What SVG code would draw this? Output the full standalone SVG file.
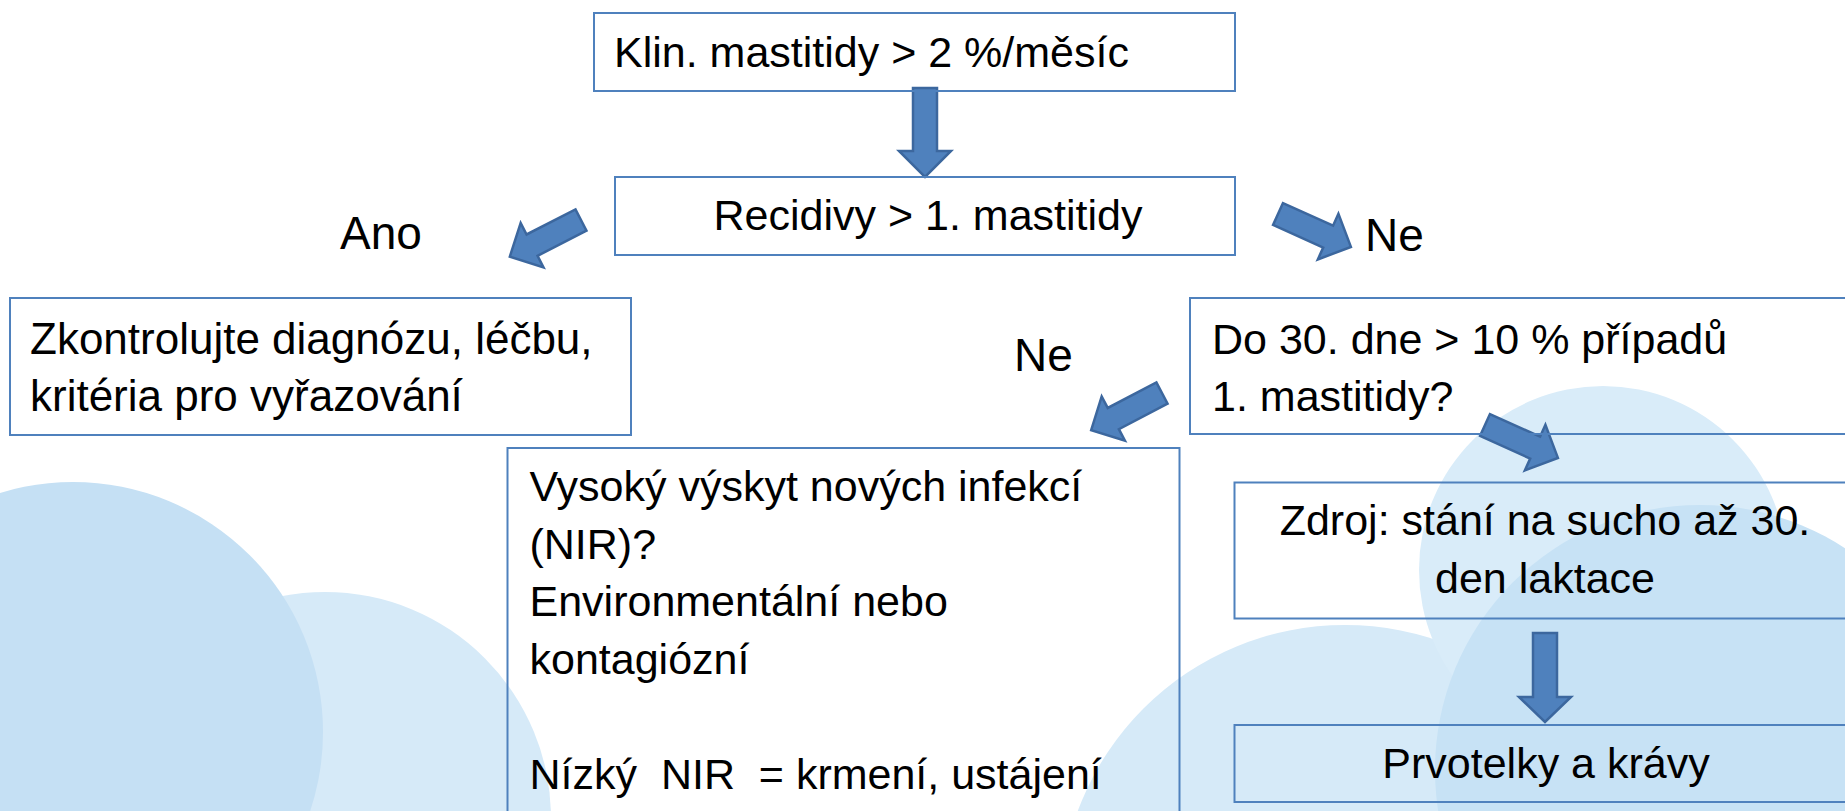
<svg xmlns="http://www.w3.org/2000/svg" xmlns:xlink="http://www.w3.org/1999/xlink" width="1845" height="811" viewBox="0 0 1845 811">
<style>
.box{fill:none;stroke:#4f81bd;stroke-width:2}
.t{font-family:"Liberation Sans",Arial,sans-serif;font-size:43px;fill:#000}
.lbl{font-family:"Liberation Sans",Arial,sans-serif;font-size:46px;fill:#000}
.arr{fill:#4f81bd;stroke:#3c679e;stroke-width:2.5;stroke-linejoin:miter}
</style>
<defs>
<path id="darr" d="M0,-12 H55 V-25 L80,0 L55,25 V12 H0 Z"/>
</defs>
<rect width="1845" height="811" fill="#ffffff"/>
<g id="background">
<circle cx="325" cy="818" r="226" fill="#d6eaf8"/>
<circle cx="73" cy="732" r="250" fill="#c5e0f4"/>
<circle cx="1345" cy="910" r="285" fill="#d6eaf8"/>
<circle cx="1603" cy="570" r="184" fill="#d9ecf9"/>
<circle cx="1700" cy="770" r="265" fill="#c7e2f5"/>
</g>
<g id="connectors">
<polygon class="arr" points="913,88 937,88 937,151 951,151 925,177 899,151 913,151"/>
<use class="arr" xlink:href="#darr" transform="translate(581,220) rotate(152.8)"/>
<use class="arr" xlink:href="#darr" transform="translate(1278,214) rotate(24.3)"/>
<use class="arr" xlink:href="#darr" transform="translate(1162,393) rotate(152.3)"/>
<use class="arr" xlink:href="#darr" transform="translate(1485,425) rotate(24.3)"/>
<polygon class="arr" points="1533,633 1557,633 1557,697 1571,697 1545,722 1519,697 1533,697"/>
</g>
<g id="labels">
<text class="lbl" x="340" y="249">Ano</text>
<text class="lbl" x="1365" y="251">Ne</text>
<text class="lbl" x="1014" y="371">Ne</text>
</g>
<g id="n1">
<rect class="box" x="594" y="13" width="641" height="78"/>
<text class="t" x="614" y="67">Klin. mastitidy &gt; 2 %/měsíc</text>
</g>
<g id="n2">
<rect class="box" x="615" y="177" width="620" height="78"/>
<text class="t" x="928" y="230" text-anchor="middle">Recidivy &gt; 1. mastitidy</text>
</g>
<g id="n3">
<rect class="box" x="10" y="298" width="621" height="137"/>
<text class="t" x="30" y="354" style="font-size:44px">Zkontrolujte diagnózu, léčbu,</text>
<text class="t" x="30" y="411" style="font-size:44px">kritéria pro vyřazování</text>
</g>
<g id="n4">
<rect class="box" x="1190" y="298" width="670" height="136"/>
<text class="t" x="1212" y="354">Do 30. dne &gt; 10 % případů</text>
<text class="t" x="1212" y="411">1. mastitidy?</text>
</g>
<g id="n5">
<rect class="box" x="507.5" y="448" width="672" height="380"/>
<text class="t" x="529.5" y="501">Vysoký výskyt nových infekcí</text>
<text class="t" x="529.5" y="558.5">(NIR)?</text>
<text class="t" x="529.5" y="616">Environmentální nebo</text>
<text class="t" x="529.5" y="673.5">kontagiózní</text>
<text class="t" x="529.5" y="788.5" xml:space="preserve">Nízký  NIR  = krmení, ustájení</text>
</g>
<g id="n6">
<rect class="box" x="1234.5" y="482.5" width="630" height="136"/>
<text class="t" x="1545" y="535" text-anchor="middle">Zdroj: stání na sucho až 30.</text>
<text class="t" x="1545" y="593" text-anchor="middle">den laktace</text>
</g>
<g id="n7">
<rect class="box" x="1234.5" y="725" width="630" height="77"/>
<text class="t" x="1546" y="778" text-anchor="middle">Prvotelky a krávy</text>
</g>
</svg>
